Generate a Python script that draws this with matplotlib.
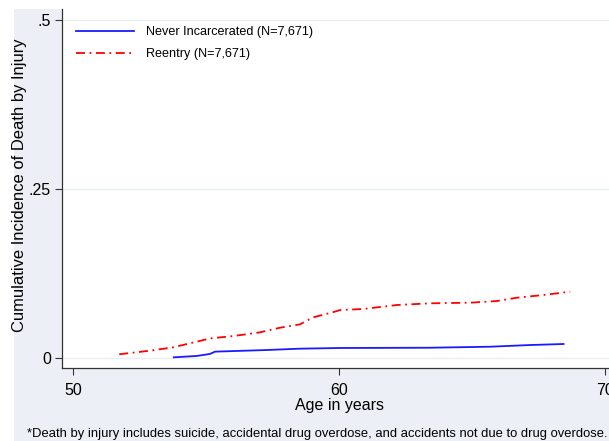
import matplotlib
matplotlib.use('Agg')
import matplotlib.pyplot as plt
from matplotlib.patches import Rectangle

plt.rcParams['font.family'] = ['Liberation Sans', 'DejaVu Sans']

##Cumulative incidence (age, incidence)
never_age = [53.79, 54.65, 55.15, 55.34, 57.28, 58.53, 60.04, 63.42, 65.68, 67.18, 68.43]
never_ci = [0.001, 0.003, 0.006, 0.0094, 0.0118, 0.0138, 0.0148, 0.0152, 0.0167, 0.0192, 0.0207]

reentry_age = [51.74, 52.89, 53.77, 54.65, 55.15, 56.03, 57.03, 57.78, 58.53, 59.03,
               59.79, 60.04, 60.91, 62.17, 63.42, 64.92, 65.93, 66.68, 67.68, 68.68]
reentry_ci = [0.0055, 0.0108, 0.0158, 0.0241, 0.029, 0.0325, 0.038, 0.0448, 0.0498, 0.0602,
              0.068, 0.071, 0.0725, 0.0784, 0.0809, 0.0818, 0.0843, 0.0892, 0.0932, 0.0981]

labels = ['Never Incarcerated (N=7,671)', 'Reentry (N=7,671)']
x_ticks = [50, 60, 70]
y_ticks = [0, 0.25, 0.5]
y_tick_labels = ['0', '.25', '.5']

W, H = 609, 441
fig = plt.figure(figsize=(W / 100, H / 100), dpi=100, facecolor='white')

# Stata-like graph region, kept behind the axes
fig.patches.append(Rectangle((14 / W, 0), 1, 1 - 9 / H, transform=fig.transFigure,
                             facecolor='#eceff5', edgecolor='none', zorder=-10))

ax = fig.add_axes([62 / W, (H - 368) / H, (616 - 62) / W, (368 - 9) / H])
ax.set_zorder(1)
ax.set_facecolor('white')

ax.plot(never_age, never_ci, color='#1a1aff', lw=1.3, label=labels[0])
ax.plot(reentry_age, reentry_ci, color='red', lw=1.3, dashes=(5, 2.5, 1, 2.5), label=labels[1])

ax.set_xlim(49.59, 70.4)
ax.set_ylim(-0.0148, 0.5163)
ax.set_xticks(x_ticks)
ax.set_yticks(y_ticks)
ax.set_yticklabels(y_tick_labels)
ax.tick_params(axis='both', labelsize=11.5, length=5, width=0.8, color='#333333')
ax.tick_params(axis='y', pad=3)
ax.tick_params(axis='x', pad=5.5)
ax.grid(axis='y', color='#eaf0f2', lw=1)
ax.set_axisbelow(True)

for side in ('top', 'right'):
    ax.spines[side].set_visible(False)
for side in ('left', 'bottom'):
    ax.spines[side].set_color('#333333')
    ax.spines[side].set_linewidth(0.9)

ax.set_xlabel('Age in years', fontsize=11.5, labelpad=0)
ax.set_ylabel('Cumulative Incidence of Death by Injury', fontsize=11.9)
ax.yaxis.set_label_coords(-0.063, 0.51)

ax.legend(loc='upper left', frameon=False, fontsize=9.1, handlelength=4.6,
          handletextpad=0.9, labelspacing=0.75, bbox_to_anchor=(0.005, 0.983))

fig.text(27 / W, (H - 434) / H,
         '*Death by injury includes suicide, accidental drug overdose, and accidents not due to drug overdose.',
         fontsize=9.35, ha='left', va='center')

fig.savefig('out.png', dpi=100, facecolor='white')
